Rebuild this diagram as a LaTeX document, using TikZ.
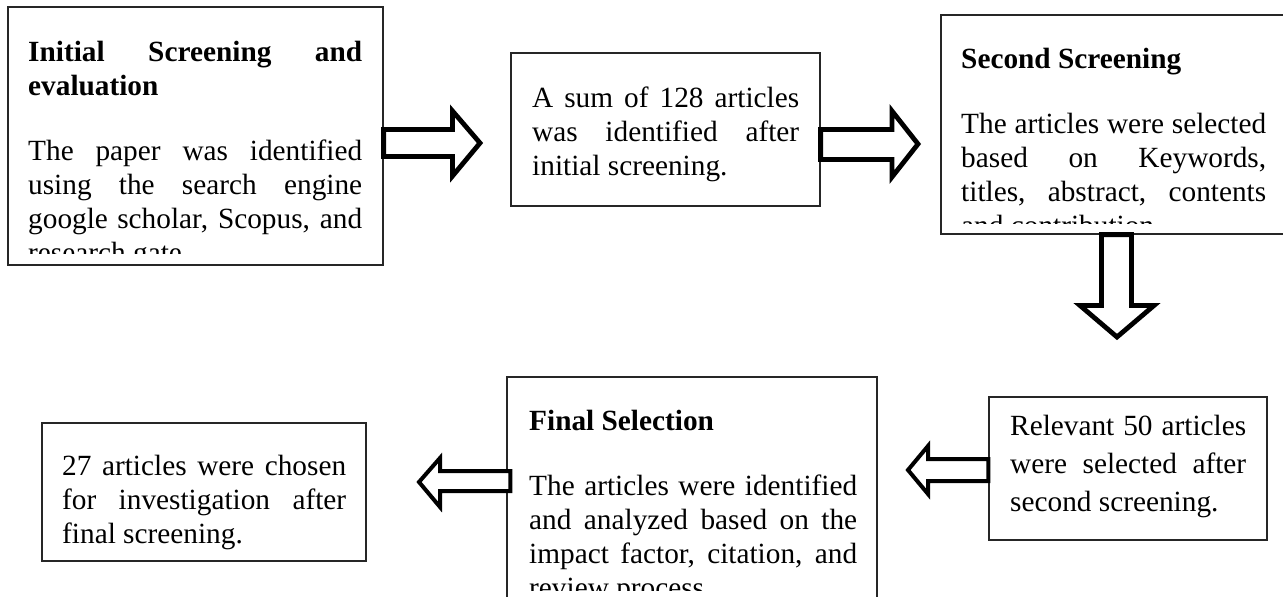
\documentclass[tikz,border=0pt]{standalone}
\usepackage{fontspec}
\setmainfont{Liberation Serif}
\usetikzlibrary{calc}
\tikzset{
  box/.style={draw=black!85, line width=1.2pt, rectangle, inner sep=0pt},
  txt/.style={anchor=base west, inner sep=0pt, align=justify, font=\fontsize{29.3}{34}\selectfont},
  txtwide/.style={anchor=base west, inner sep=0pt, align=justify, font=\fontsize{29.3}{38}\selectfont},
  ttl/.style={anchor=base west, inner sep=0pt, align=justify, font=\fontsize{29.3}{34}\selectfont\bfseries},
  blkbig/.style={draw=black, fill=white, line width=4.8pt, line join=miter},
  blksmall/.style={draw=black, fill=white, line width=4pt, line join=miter}
}
\begin{document}
\begin{tikzpicture}[x=1pt,y=-1pt]
\useasboundingbox (0,0) rectangle (1283,597);
% boxes
\node[box, minimum width=375pt, minimum height=258pt] (b1) at (195.5,136) {};
\node[box, minimum width=309pt, minimum height=153pt] (b2) at (665.5,129.5) {};
\node[box, minimum width=344pt, minimum height=219pt] (b3) at (1113,124.5) {};
\node[box, minimum width=278pt, minimum height=143pt] (b4) at (1128,468.5) {};
\node[box, minimum width=370pt, minimum height=233pt] (b5) at (692,493.5) {};
\node[box, minimum width=324pt, minimum height=138pt] (b6) at (204,492) {};
% box 1 text
\begin{scope}
\clip (8,7) rectangle (383,253);
\node[ttl, text width=334pt] (t1) at (28,61) {Initial Screening and\linebreak evaluation};
\node[txt, text width=334pt] (p1) at (28,160) {The paper was identified\linebreak using the search engine\linebreak google scholar, Scopus, and\linebreak research gate.};
\end{scope}
% box 2 text
\node[txt, text width=267pt] (p2) at (532,107) {A sum of 128 articles\linebreak was identified after\linebreak initial screening.};
% box 3 text
\begin{scope}
\clip (941,15) rectangle (1283,223);
\node[ttl, text width=305pt] (t3) at (961,68) {Second Screening};
\node[txt, text width=305pt] (p3) at (961,133) {The articles were selected\linebreak based on Keywords,\linebreak titles, abstract, contents\linebreak and contribution.};
\end{scope}
% box 4 text
\node[txtwide, text width=236pt] (p4) at (1010,435) {Relevant 50 articles\linebreak were selected after\linebreak second screening.};
% box 5 text
\begin{scope}
\clip (507,377) rectangle (877,590);
\node[ttl, text width=328pt] (t5) at (529,430) {Final Selection};
\node[txt, text width=328pt] (p5) at (529,495) {The articles were identified\linebreak and analyzed based on the\linebreak impact factor, citation, and\linebreak review process.};
\end{scope}
% box 6 text
\node[txt, text width=284pt] (p6) at (62,475) {27 articles were chosen\linebreak for investigation after\linebreak final screening.};
% block arrows
\draw[blkbig] (b1.east |- 0,129.5) -- (452.5,129.5) -- (452.5,111) -- (480,143) -- (452.5,176) -- (452.5,156.5) -- (b1.east |- 0,156.5) -- cycle;
\draw[blkbig] (b2.east |- 0,129.5) -- (892,129.5) -- (892,111) -- (918,144) -- (892,177) -- (892,159.5) -- (b2.east |- 0,159.5) -- cycle;
\draw[blkbig] (b3.south -| 1101.5,0) -- (1101.5,305.5) -- (1080,305.5) -- (1117,337) -- (1154,305.5) -- (1131.5,305.5) -- (b3.south -| 1131.5,0) -- cycle;
\draw[blksmall] (b4.west |- 0,459) -- (928,459) -- (928,446) -- (908,470) -- (928,494) -- (928,481) -- (b4.west |- 0,481) -- cycle;
\draw[blksmall] ($(b5.west |- 0,471)+(4,0)$) -- (440,471) -- (440,458) -- (419,482) -- (440,507) -- (440,491) -- ($(b5.west |- 0,491)+(4,0)$) -- cycle;
\end{tikzpicture}
\end{document}
